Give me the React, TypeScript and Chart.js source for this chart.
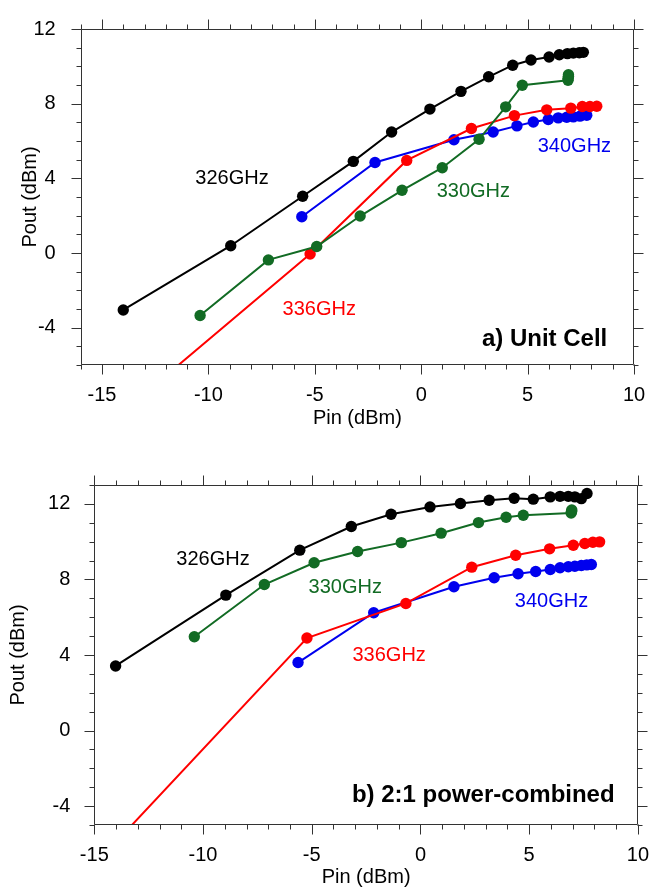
import React, { useEffect, useRef } from "react";
import { Chart, registerables } from "chart.js";

Chart.register(...registerables);

const FONT = "'Liberation Sans', Arial, Helvetica, sans-serif";

// ---------- Panel a) Unit Cell ----------
const a326X = [-14.0, -8.95, -5.57, -3.19, -1.39, 0.41, 1.87, 3.17, 4.3, 5.16, 6.01, 6.49, 6.87, 7.15, 7.43, 7.62];
const a326Y = [-3.05, 0.39, 3.04, 4.91, 6.48, 7.71, 8.66, 9.44, 10.06, 10.34, 10.5, 10.62, 10.68, 10.71, 10.73, 10.75];

const a330X = [-10.39, -7.18, -4.91, -2.87, -0.9, 0.99, 2.72, 3.97, 4.75, 6.9, 6.9, 6.92, 6.92];
const a330Y = [-3.35, -0.37, 0.35, 1.98, 3.36, 4.57, 6.09, 7.83, 8.99, 9.25, 9.35, 9.45, 9.55];

const a336X = [-14.0, -5.22, -0.68, 2.36, 4.38, 5.9, 7.03, 7.57, 7.93, 8.25];
const a336Y = [-8.5, -0.05, 4.96, 6.67, 7.36, 7.67, 7.76, 7.85, 7.85, 7.86];

const a340X = [-5.61, -2.17, 1.54, 3.38, 4.5, 5.27, 5.97, 6.44, 6.84, 7.15, 7.46, 7.78];
const a340Y = [1.94, 4.85, 6.07, 6.48, 6.81, 7.02, 7.15, 7.24, 7.27, 7.29, 7.33, 7.38];

// ---------- Panel b) 2:1 power-combined ----------
const b326X = [-14.02, -8.95, -5.55, -3.18, -1.35, 0.44, 1.84, 3.16, 4.31, 5.19, 5.97, 6.42, 6.8, 7.1, 7.4, 7.66];
const b326Y = [3.42, 7.17, 9.55, 10.8, 11.45, 11.84, 12.02, 12.19, 12.3, 12.25, 12.37, 12.4, 12.4, 12.37, 12.28, 12.55];

const b330X = [-10.4, -7.18, -4.89, -2.89, -0.88, 0.95, 2.67, 3.94, 4.73, 6.93, 6.95, 6.96];
const b330Y = [4.97, 7.73, 8.88, 9.48, 9.95, 10.45, 11.01, 11.29, 11.4, 11.52, 11.6, 11.68];

const b336X = [-14.0, -5.22, -0.67, 2.36, 4.38, 5.94, 7.03, 7.56, 7.93, 8.24];
const b336Y = [-5.9, 4.9, 6.73, 8.65, 9.28, 9.62, 9.81, 9.9, 9.97, 9.99];

const b340X = [-5.63, -2.15, 1.54, 3.39, 4.49, 5.3, 5.97, 6.42, 6.8, 7.1, 7.4, 7.65, 7.86];
const b340Y = [3.6, 6.24, 7.61, 8.09, 8.3, 8.42, 8.53, 8.62, 8.67, 8.7, 8.74, 8.77, 8.79];

// ---------- ticks ----------
const aXTicks = [-15, -10, -5, 0, 5, 10];
const aYTicks = [-4, 0, 4, 8, 12];
const bXTicks = [-15, -10, -5, 0, 5, 10];
const bYTicks = [-4, 0, 4, 8, 12];

const seriesNames = ["326GHz", "330GHz", "336GHz", "340GHz"];
const COLORS = ["#000000", "#126b24", "#ff0000", "#0000ee"];

const pts = (xs: number[], ys: number[]) => xs.map((x, i) => ({ x, y: ys[i] }));

type Note = { text: string; x: number; y: number; color: string; bold?: boolean; size: number };

const framePlugin = {
  id: "frame",
  afterDraw(chart: any) {
    const { ctx, chartArea, scales } = chart;
    const { left, right, top, bottom } = chartArea;
    const xs = scales.x;
    const ys = scales.y;
    const L = Math.round(left) + 0.5;
    const R = Math.round(right) - 0.5;
    const T = Math.round(top) + 0.5;
    const B = Math.round(bottom) - 0.5;
    ctx.save();
    ctx.strokeStyle = "#333";
    ctx.lineWidth = 1;
    ctx.beginPath();
    ctx.rect(L, T, R - L, B - T);
    for (let v = Math.ceil(xs.min); v <= Math.floor(xs.max); v++) {
      const p = Math.round(xs.getPixelForValue(v)) + 0.5;
      const len = v % 5 === 0 ? 10 : 5;
      ctx.moveTo(p, B);
      ctx.lineTo(p, B + len);
      ctx.moveTo(p, T);
      ctx.lineTo(p, T - len);
    }
    for (let v = Math.ceil(ys.min); v <= Math.floor(ys.max); v++) {
      const p = Math.round(ys.getPixelForValue(v)) + 0.5;
      const len = v % 4 === 0 ? 10 : 5;
      ctx.moveTo(L, p);
      ctx.lineTo(L - len, p);
      ctx.moveTo(R, p);
      ctx.lineTo(R + len, p);
    }
    ctx.stroke();
    ctx.restore();
  },
};

const makeNotes = (items: Note[]) => ({
  id: "notes",
  afterDatasetsDraw(chart: any) {
    const { ctx, scales } = chart;
    ctx.save();
    ctx.textAlign = "center";
    ctx.textBaseline = "middle";
    for (const n of items) {
      ctx.font = `${n.bold ? "bold " : ""}${n.size}px ${FONT}`;
      ctx.fillStyle = n.color;
      ctx.fillText(n.text, scales.x.getPixelForValue(n.x), scales.y.getPixelForValue(n.y));
    }
    ctx.restore();
  },
});

type PanelCfg = {
  height: number;
  xMin: number;
  xMax: number;
  yMin: number;
  yMax: number;
  xTicks: number[];
  yTicks: number[];
  series: { x: number[]; y: number[] }[];
  notes: Note[];
  padTop: number;
  padRight: number;
  yAxisW: number;
  xAxisH: number;
  yLabelPad: number;
  xLabelPad: number;
  yTitlePad: number;
  xTitlePad: number;
};

function buildConfig(c: PanelCfg): any {
  const font = { family: FONT, size: 20 };
  return {
    type: "line",
    data: {
      datasets: c.series.map((s, i) => ({
        label: seriesNames[i],
        data: pts(s.x, s.y),
        borderColor: COLORS[i],
        backgroundColor: COLORS[i],
        pointBackgroundColor: COLORS[i],
        pointBorderColor: COLORS[i],
        pointBorderWidth: 0,
        pointRadius: 5.7,
        borderWidth: 2,
        tension: 0,
        fill: false,
      })),
    },
    options: {
      responsive: false,
      animation: false,
      events: [],
      layout: { padding: { top: c.padTop, right: c.padRight, left: 0, bottom: 0 } },
      plugins: { legend: { display: false }, tooltip: { enabled: false } },
      scales: {
        x: {
          type: "linear",
          position: "bottom",
          min: c.xMin,
          max: c.xMax,
          afterBuildTicks: (s: any) => {
            s.ticks = c.xTicks.map((v) => ({ value: v }));
          },
          afterFit: (s: any) => {
            s.height = c.xAxisH;
          },
          grid: { display: false },
          border: { display: false },
          ticks: { font, color: "#000", padding: c.xLabelPad, maxRotation: 0, autoSkip: false },
          title: {
            display: true,
            text: "Pin (dBm)",
            font,
            color: "#000",
            padding: { top: 0, bottom: c.xTitlePad },
          },
        },
        y: {
          type: "linear",
          position: "left",
          min: c.yMin,
          max: c.yMax,
          afterBuildTicks: (s: any) => {
            s.ticks = c.yTicks.map((v) => ({ value: v }));
          },
          afterFit: (s: any) => {
            s.width = c.yAxisW;
          },
          grid: { display: false },
          border: { display: false },
          ticks: { font, color: "#000", padding: c.yLabelPad, autoSkip: false },
          title: {
            display: true,
            text: "Pout (dBm)",
            font,
            color: "#000",
            padding: { top: c.yTitlePad, bottom: 0 },
          },
        },
      },
    },
    plugins: [framePlugin, makeNotes(c.notes)],
  };
}

const panelA: PanelCfg = {
  height: 440,
  xMin: -16,
  xMax: 10,
  yMin: -6,
  yMax: 12,
  xTicks: aXTicks,
  yTicks: aYTicks,
  series: [
    { x: a326X, y: a326Y },
    { x: a330X, y: a330Y },
    { x: a336X, y: a336Y },
    { x: a340X, y: a340Y },
  ],
  notes: [
    { text: "326GHz", x: -8.89, y: 4.0, color: COLORS[0], size: 20 },
    { text: "330GHz", x: 2.45, y: 3.31, color: COLORS[1], size: 20 },
    { text: "336GHz", x: -4.79, y: -3.02, color: COLORS[2], size: 20 },
    { text: "340GHz", x: 7.2, y: 5.69, color: COLORS[3], size: 20 },
    { text: "a) Unit Cell", x: 5.8, y: -4.61, color: "#000", bold: true, size: 24 },
  ],
  padTop: 25,
  padRight: 25,
  yAxisW: 80.7,
  xAxisH: 75,
  yLabelPad: 17,
  xLabelPad: 10,
  yTitlePad: 18,
  xTitlePad: 10,
};

const panelB: PanelCfg = {
  height: 450,
  xMin: -15,
  xMax: 10,
  yMin: -5,
  yMax: 13,
  xTicks: bXTicks,
  yTicks: bYTicks,
  series: [
    { x: b326X, y: b326Y },
    { x: b330X, y: b330Y },
    { x: b336X, y: b336Y },
    { x: b340X, y: b340Y },
  ],
  notes: [
    { text: "326GHz", x: -9.54, y: 9.08, color: COLORS[0], size: 20 },
    { text: "330GHz", x: -3.46, y: 7.6, color: COLORS[1], size: 20 },
    { text: "336GHz", x: -1.44, y: 3.97, color: COLORS[2], size: 20 },
    { text: "340GHz", x: 6.03, y: 6.85, color: COLORS[3], size: 20 },
    { text: "b) 2:1 power-combined", x: 2.89, y: -3.45, color: "#000", bold: true, size: 24 },
  ],
  padTop: 45,
  padRight: 13.3,
  yAxisW: 94.3,
  xAxisH: 65,
  yLabelPad: 16,
  xLabelPad: 10,
  yTitlePad: 6.5,
  xTitlePad: 0.5,
};

function Panel({ cfg, top }: { cfg: PanelCfg; top: number }) {
  const ref = useRef<HTMLCanvasElement>(null);
  useEffect(() => {
    const chart = new Chart(ref.current as HTMLCanvasElement, buildConfig(cfg));
    return () => chart.destroy();
  }, [cfg]);
  return (
    <canvas
      ref={ref}
      width={659}
      height={cfg.height}
      style={{ position: "absolute", left: 0, top, width: 659, height: cfg.height }}
    />
  );
}

export default function App() {
  return (
    <div
      style={{
        position: "absolute",
        left: 0,
        top: 0,
        width: 659,
        height: 888,
        overflow: "hidden",
        background: "#fff",
      }}
    >
      <Panel cfg={panelA} top={0} />
      <Panel cfg={panelB} top={440} />
    </div>
  );
}
